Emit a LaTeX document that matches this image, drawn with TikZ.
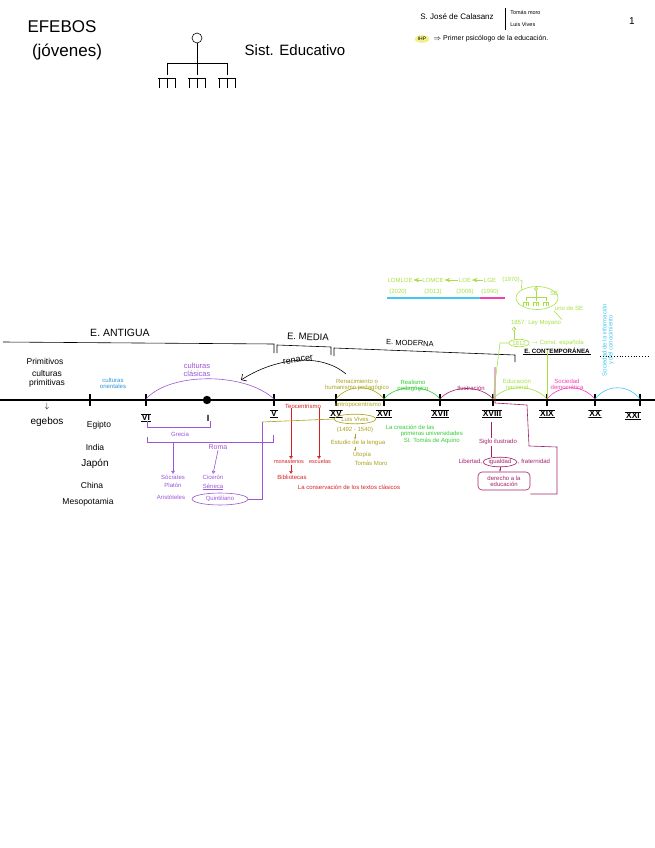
\documentclass[tikz,border=0pt]{standalone}
\usepackage{fontspec}
\setmainfont{Liberation Sans}
\usetikzlibrary{arrows.meta,shapes.geometric}
\definecolor{purp}{HTML}{9B55D6}
\definecolor{oblue}{HTML}{2A90D8}
\definecolor{tred}{HTML}{D42222}
\definecolor{olive}{HTML}{A9A21E}
\definecolor{rgreen}{HTML}{33CC33}
\definecolor{maroon}{HTML}{A3216B}
\definecolor{lime}{HTML}{A6E044}
\definecolor{tpink}{HTML}{F040B4}
\definecolor{tcyan}{HTML}{40C8F0}
\definecolor{hl}{HTML}{F2F08A}
\tikzset{
  fs/.style={font=\fontsize{#1}{#1}\selectfont},
  lbl/.style={inner sep=0.5pt, align=center, fs=6},
  blk/.style={inner sep=0.5pt, align=center, fs=8.5},
  tickmark/.style={line width=1.5pt},
  rom/.style={inner sep=1pt, font=\bfseries\fontsize{8.5}{8.5}\selectfont,
    path picture={\draw[line width=1.6pt] (path picture bounding box.north west) -- (path picture bounding box.north east)
      (path picture bounding box.south west) -- (path picture bounding box.south east);}},
  tri/.style={-{Triangle[open,length=3pt,width=3.5pt]}},
  treeicon/.pic={
    \draw (0,0) circle (5);
    \draw (0,5) -- (0,25);
    \draw (-30,25) -- (30,25);
    \foreach \x in {-30,0,30} {
      \draw (\x,25) -- (\x,37);
      \draw (\x-9,40) -- (\x+9,40);
      \foreach \d in {-8,0,8} \draw (\x+\d,40) -- (\x+\d,50);
    }
  }
}
\begin{document}
\begin{tikzpicture}[x=1pt,y=-1pt,line width=0.6pt]
\useasboundingbox (0,0) rectangle (655,848);
% ---------- header ----------
\node[inner sep=0, fs=17] (efebos) at (62,27) {EFEBOS};
\node[inner sep=0, fs=17] (jovenes) at (67,52) {(jóvenes)};
\pic at (197,38) {treeicon};
\node[inner sep=0, fs=15] (sist) at (295,50) {Sist. Educativo};
\node[inner sep=0, fs=8] (calasanz) at (457,17) {S. José de Calasanz};
\coordinate (vla) at (505,8); \coordinate (vlb) at (505,30);
\draw (vla) -- (vlb);
\node[inner sep=0, fs=5.5, anchor=west] (moro) at (510,13) {Tomás moro};
\node[inner sep=0, fs=5.5, anchor=west] (vivesh) at (510,25) {Luis Vives};
\node[inner sep=0, fs=10] (pagenum) at (632,21) {1};
\node[ellipse, fill=hl, inner sep=1pt, fs=5] (ihp) at (422,39) {IHP};
\node[inner sep=0, fs=7, anchor=west] (psico) at (433,39) {$\Rightarrow$ Primer psicólogo de la educación.};
% ---------- laws ----------
\begin{scope}[lime]
\node[lbl] (lomloe) at (400,280) {LOMLOE};
\node[lbl] (lomce) at (433,280) {LOMCE};
\node[lbl] (loe) at (465,280) {LOE};
\node[lbl] (lge) at (490,280) {LGE};
\node[lbl] (y1970) at (511,280) {(1970)};
\draw[->,>=Stealth] (lomce) -- (lomloe);
\draw[->,>=Stealth] (loe) -- (lomce);
\draw[->,>=Stealth] (lge) -- (loe);
\node[lbl] (y2020) at (398,292) {(2020)};
\node[lbl] (y2013) at (433,292) {(2013)};
\node[lbl] (y2006) at (465,292) {(2006)};
\node[lbl] (y1990) at (490,292) {(1990)};
\node[ellipse, draw, minimum width=42pt, minimum height=23pt, inner sep=0] (seell) at (537,298) {};
\pic[scale=0.33] at (536,289) {treeicon};
\node[lbl] (se) at (554,293) {SE};
\draw (y1970.east) to[out=0,in=120] (seell.north west);
\node[lbl] (unose) at (569,308) {uno de SE};
\node[lbl] (moyano) at (536,323) {1857: Ley Moyano};
\draw (unose.south west) -- (moyano.north east);
\node[ellipse, draw, inner sep=0.8pt, lbl] (y1812) at (519,343) {1812};
\node[lbl, anchor=west] (const) at (530,343) {$\rightarrow$ Const. española};
\coordinate (cir) at (514,329);
\draw (moyano.south -| cir) -- (cir);
\draw (cir) circle (1.8);
\draw ([yshift=-1.8pt]cir) -- (y1812.north -| cir);
\end{scope}
\coordinate (cyA) at (387,298); \coordinate (cyB) at (480,298); \coordinate (cyC) at (505,298);
\draw[tcyan, line width=1.3pt] (cyA) -- (cyB);
\draw[tpink, line width=1.3pt] (cyB) -- (cyC);
% ---------- periods ----------
\node[inner sep=0, fs=10.5] (antigua) at (120,333) {E. ANTIGUA};
\node[inner sep=0, fs=9.5, rotate=-2] (media) at (308,337) {E. MEDIA};
\node[inner sep=0, fs=7.5, rotate=-2] (moderna) at (410,343) {E. MODERNA};
\node[inner sep=0.5pt, font=\bfseries\fontsize{6.2}{6.2}\selectfont] (contemp) at (557,351) {E. CONTEMPORÁNEA};
\coordinate (pa1) at (3,342); \coordinate (pa2) at (274,344);
\draw (pa1) -- (pa2) -- ++(0,9);
\coordinate (pm1) at (277,345); \coordinate (pm2) at (331,347);
\draw (pm1) ++(0,8) -- (pm1) -- (pm2) -- ++(0,8);
\coordinate (pd1) at (334,348); \coordinate (pd2) at (515,355);
\draw (pd1) ++(0,8) -- (pd1) -- (pd2) -- ++(0,7);
\draw (contemp.south west) -- (contemp.south east);
\coordinate (dt1) at (600,356); \coordinate (dt2) at (650,356);
\draw[dotted, line width=0.8pt] (dt1) -- (dt2);
\node[inner sep=0, fs=9, rotate=9] (renacer) at (298,360) {renacer};
\coordinate (rnA) at (346,374); \coordinate (rnB) at (241,380);
\draw[-{Straight Barb[length=4pt]}] (rnA) .. controls (320,352) and (275,358) .. (rnB);
% ---------- timeline ----------
\coordinate (L0) at (0,400); \coordinate (L1) at (655,400);
\draw[line width=1.1pt] (L0) -- (L1);
\foreach \n/\x in {a/90, VI/146, V/274, XV/336, XVI/384, XVII/440, XVIII/493, XIX/547, XX/595, XXI/640} {
  \coordinate (t\n) at (\x,399);
  \draw[tickmark] (\x,394) -- (\x,406);
}
\coordinate (tI) at (207,399);
\fill (207,400) circle (4.2);
\node[rom] (rVI) at (146,418) {VI};
\node[inner sep=1pt, font=\bfseries\fontsize{9}{9}\selectfont] (rI) at (208,418) {I};
\node[rom] (rV) at (274,414) {V};
\node[rom] (rXV) at (336,414) {XV};
\node[rom] (rXVI) at (384,414) {XVI};
\node[rom] (rXVII) at (440,414) {XVII};
\node[rom] (rXVIII) at (492,414) {XVIII};
\node[rom] (rXIX) at (547,414) {XIX};
\node[rom] (rXX) at (595,414) {XX};
\node[rom] (rXXI) at (633,416) {XXI};
% ---------- left column ----------
\node[blk] (primitivos) at (45,361) {Primitivos};
\node[blk] (cultprim) at (47,379) {culturas\\primitivas};
\node[blk] (darr) at (47,406) {$\downarrow$};
\node[blk, fs=10] (egebos) at (47,422) {egebos};
\node[blk] (egipto) at (99,425) {Egipto};
\node[blk] (india) at (95,447) {India};
\node[blk, fs=10] (japon) at (95,464) {Japón};
\node[blk] (china) at (92,485) {China};
\node[blk] (mesop) at (88,502) {Mesopotamia};
\node[lbl, oblue] (orient) at (113,383) {culturas\\orientales};
% ---------- purple ----------
\begin{scope}[purp]
\node[lbl, fs=7.5] (clasicas) at (197,370) {culturas\\clásicas};
\draw (tVI) .. controls (170,372) and (245,372) .. (tV);
\coordinate (g1) at (147,421); \coordinate (g2) at (210,421);
\draw (g1) -- ++(0,6) -| (g2);
\node[lbl] (grecia) at (180,434) {Grecia};
\coordinate (ro1) at (147,437); \coordinate (ro2) at (273,435);
\draw (ro1) -- ++(0,5) -- (273,442) -- (ro2);
\node[lbl, fs=7] (roma) at (218,447) {Roma};
\node[lbl] (socrates) at (173,477) {Sócrates};
\node[lbl] (platon) at (173,485) {Platón};
\node[lbl] (aristo) at (171,497) {Aristóteles};
\node[lbl] (ciceron) at (213,477) {Cicerón};
\node[lbl] (seneca) at (213,487) {\underline{Séneca}};
\node[ellipse, draw, lbl, inner sep=1.5pt, minimum width=56pt] (quint) at (220,499) {Quintiliano};
\coordinate (ar1) at (173,442);
\draw[tri] (ar1) -- (socrates.north);
\draw[tri] (roma.south) -- (ciceron.north);
\coordinate (qv) at (262,422);
\draw (quint.east) -- (quint.east -| qv) -- (qv);
\end{scope}
% ---------- red ----------
\begin{scope}[tred]
\node[lbl] (teocen) at (303,406) {Teocentrismo};
\node[lbl, fs=5.5] (monast) at (289,462) {monasterios};
\node[lbl, fs=5.5] (escuel) at (320,462) {escuelas};
\coordinate (rd1) at (291,408); \coordinate (rd2) at (319,408);
\draw[tri] (rd1) -- (monast.north -| rd1);
\draw[tri] (rd2) -- (escuel.north -| rd2);
\node[lbl] (biblio) at (292,477) {Bibliotecas};
\draw[tri] (monast.south -| rd1) -- (biblio.north -| rd1);
\node[lbl] (conserv) at (349,487) {La conservación de los textos clásicos};
\end{scope}
% ---------- olive ----------
\begin{scope}[olive]
\node[lbl] (renac) at (357,385) {Renacimiento o\\humanismo pedagógico};
\draw (tXV) .. controls (348,384) and (372,384) .. (tXVI);
\node[lbl] (antropo) at (358,405) {antropocentrismo};
\node[ellipse, draw, lbl, inner sep=1.2pt, minimum width=34pt] (lvives) at (355,419) {Luis Vives};
\draw (qv) -- (lvives.west);
\node[lbl] (fechas) at (355,430) {(1492 - 1540)};
\node[lbl] (estudio) at (358,443) {Estudio de la lengua};
\node[lbl] (utopia) at (362,455) {Utopía};
\node[lbl] (tmoro) at (371,463) {Tomás Moro};
\draw[-{Stealth[length=2.5pt]}] (fechas.south) -- (estudio.north -| fechas.south);
\draw[-{Stealth[length=2.5pt]}] (estudio.south -| fechas.south) -- (utopia.north -| fechas.south);
\end{scope}
% ---------- green ----------
\begin{scope}[rgreen]
\node[lbl] (realismo) at (413,386) {Realismo\\pedagógico};
\draw (tXVI) .. controls (396,384) and (428,384) .. (tXVII);
\node[lbl, anchor=west] (creacion) at (385,427) {La creación de las};
\node[lbl, anchor=west] (univ) at (400,434) {primeras universidades};
\node[lbl, anchor=west] (aquino) at (403,441) {St. Tomás de Aquino};
\end{scope}
% ---------- maroon ----------
\begin{scope}[maroon]
\node[lbl] (ilus) at (471,388) {Ilustración};
\draw (tXVII) .. controls (452,385) and (481,385) .. (tXVIII);
\node[lbl] (siglo) at (498,442) {Siglo ilustrado};
\coordinate (sv) at (491,422);
\draw (sv) -- (siglo.north -| sv);
\node[ellipse, draw, lbl, inner sep=0.6pt] (igual) at (500,462) {igualdad};
\node[lbl, anchor=east] (libertad) at (igual.west) {Libertad,};
\node[lbl, anchor=west] (fratern) at (igual.east) {, fraternidad};
\draw (siglo.south -| sv) -- (igual.north -| sv);
\node[draw, rounded corners=4pt, lbl, minimum width=52pt, minimum height=18pt] (derecho) at (504,481) {derecho a la\\educación};
\draw[-{Stealth[length=2.5pt]}] (igual.south) -- (derecho.north -| igual.south);
\coordinate (mz1) at (495,367); \coordinate (mz2) at (495,403);
\draw (mz1) -- (mz2) -- (527,405) -- (529,446) -- (557,447) -- (557,494) -- (derecho.east |- 557,494);
\end{scope}
% ---------- lime / pink / cyan ----------
\begin{scope}[lime]
\node[lbl] (educnac) at (517,384) {Educación\\nacional};
\draw (tXVIII) .. controls (506,384) and (534,384) .. (tXIX);
\draw (y1812.west) -- (500,343) -- (tXVIII);
\coordinate (cst) at (547,350);
\draw (cst) -- (tXIX);
\end{scope}
\begin{scope}[tpink]
\node[lbl] (socdem) at (567,384) {Sociedad\\democrática};
\draw (tXIX) .. controls (560,384) and (582,384) .. (tXX);
\end{scope}
\begin{scope}[tcyan]
\draw (tXX) .. controls (607,384) and (628,384) .. (tXXI);
\node[lbl, rotate=90] (socinfo) at (608,340) {Sociedad de la información\\y del conocimiento};
\end{scope}
\end{tikzpicture}
\end{document}
